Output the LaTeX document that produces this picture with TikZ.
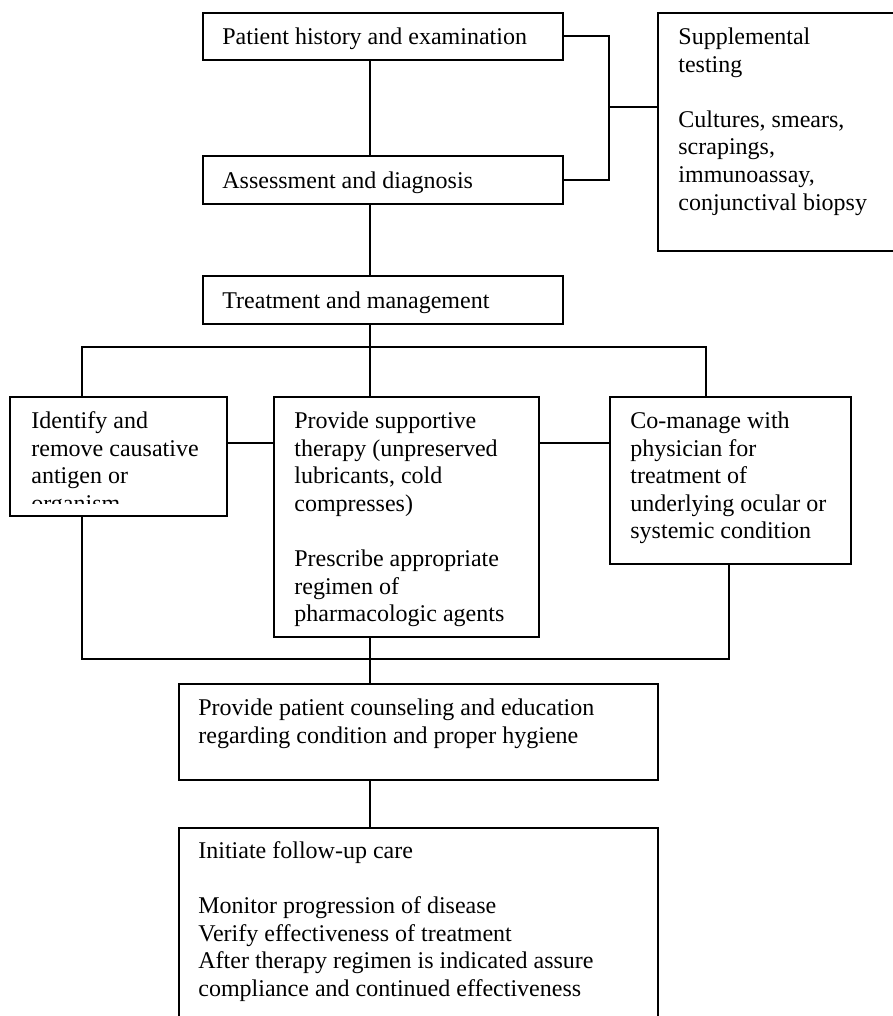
\documentclass[tikz,border=0pt]{standalone}
\usepackage{fontspec}
\setmainfont{Liberation Serif}
\begin{document}
\begin{tikzpicture}[x=0.5pt,y=-0.5pt,
  boxnode/.style={draw, line width=0.9pt, inner sep=0pt, anchor=north west, rectangle},
  txt/.style={anchor=north west, inner sep=0pt, align=left, font=\fontsize{12}{13.8}\selectfont},
  conn/.style={line width=0.9pt}]
\useasboundingbox (0,0) rectangle (893,1016);
\clip (0,0) rectangle (893,1016);
% boxes
\node[boxnode, minimum width=180pt, minimum height=23.5pt] (b1) at (202,12) {};
\node[boxnode, minimum width=180pt, minimum height=24pt] (b2) at (202,155) {};
\node[boxnode, minimum width=136.5pt, minimum height=119pt] (sup) at (657,12) {};
\node[boxnode, minimum width=180pt, minimum height=24pt] (b3) at (202,275) {};
\node[boxnode, minimum width=108.5pt, minimum height=59.5pt] (L) at (9,396) {};
\node[boxnode, minimum width=132.5pt, minimum height=120pt] (M) at (273,396) {};
\node[boxnode, minimum width=120.5pt, minimum height=83.5pt] (R) at (609,396) {};
\node[boxnode, minimum width=239.5pt, minimum height=48pt] (C) at (178,683) {};
\node[boxnode, minimum width=239.5pt, minimum height=115pt] (F) at (178,827) {};
% texts
\node[txt] (t1) at (222,24.7) {\strut Patient history and examination};
\node[txt] (t2) at (222,168.7) {\strut Assessment and diagnosis};
\node[txt] (t3) at (222,288.7) {\strut Treatment and management};
\node[txt] (tsup) at (678,24.7) {\strut Supplemental\\testing\\[13.8pt]Cultures, smears,\\scrapings,\\immunoassay,\\conjunctival biopsy};
\begin{scope}
\clip (9,396) rectangle (226,503);
\node[txt] (tL) at (31,408.7) {\strut Identify and\\remove causative\\antigen or\\organism};
\end{scope}
\node[txt] (tM) at (294,408.7) {\strut Provide supportive\\therapy (unpreserved\\lubricants, cold\\compresses)\\[13.8pt]Prescribe appropriate\\regimen of\\pharmacologic agents};
\node[txt] (tR) at (630,408.7) {\strut Co-manage with\\physician for\\treatment of\\underlying ocular or\\systemic condition};
\node[txt] (tC) at (198,695.7) {\strut Provide patient counseling and education\\regarding condition and proper hygiene};
\node[txt] (tF) at (198,838.7) {\strut Initiate follow-up care\\[13.8pt]Monitor progression of disease\\Verify effectiveness of treatment\\After therapy regimen is indicated assure\\compliance and continued effectiveness};
% helper coordinates
\coordinate (spine) at (370,0);
\coordinate (brk) at (609,107);
\coordinate (busT) at (0,347);
\coordinate (busB) at (0,659);
\coordinate (lx) at (82,0);
\coordinate (rx) at (706,0);
\coordinate (rbx) at (729,0);
\coordinate (midy) at (0,443);
% connectors
\draw[conn] (b1.south -| spine) -- (b2.north -| spine);
\draw[conn] (b2.south -| spine) -- (b3.north -| spine);
\draw[conn] (b3.south -| spine) -- (M.north -| spine);
\draw[conn] (b1.east) -| (brk) |- (b2.east);
\draw[conn] (brk) -- (brk -| sup.west);
\draw[conn] (L.north -| lx) |- (busT -| rx) -- (R.north -| rx);
\draw[conn] (L.east |- midy) -- (M.west |- midy);
\draw[conn] (M.east |- midy) -- (R.west |- midy);
\draw[conn] (L.south -| lx) |- (busB -| rbx) -- (R.south -| rbx);
\draw[conn] (M.south -| spine) -- (C.north -| spine);
\draw[conn] (C.south -| spine) -- (F.north -| spine);
\end{tikzpicture}
\end{document}
